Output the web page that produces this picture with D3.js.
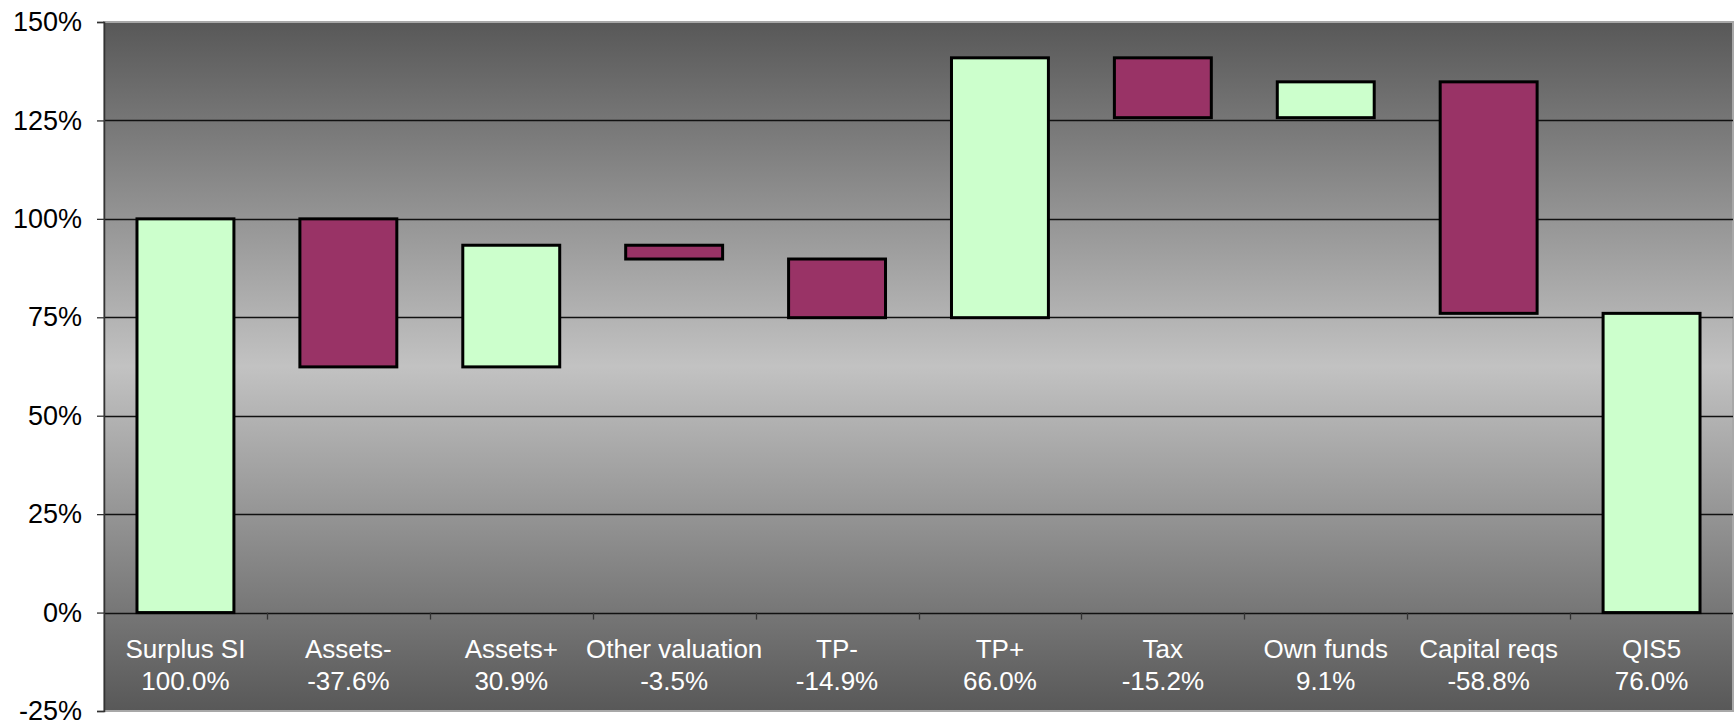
<!DOCTYPE html>
<html><head><meta charset="utf-8">
<script src="https://cdn.jsdelivr.net/npm/d3@7"></script>
<style>html,body{margin:0;padding:0;background:#fff;}svg{display:block;}</style>
</head><body>
<svg id="chart" width="1735" height="722"></svg>
<script>
const categories = ["Surplus SI","Assets-","Assets+","Other valuation","TP-","TP+","Tax","Own funds","Capital reqs","QIS5"];
const changes = [100.0,-37.6,30.9,-3.5,-14.9,66.0,-15.2,9.1,-58.8,76.0];
const isTotal = [true,false,false,false,false,false,false,false,false,true];
const yTicks = [-25,0,25,50,75,100,125,150];

const W = 1735, H = 722;
const m = {left:104, right:2, top:22, bottom:11};
const svg = d3.select("#chart");
const x = d3.scaleBand().domain(categories).range([m.left, W - m.right]).padding(0);
const y = d3.scaleLinear().domain([-25,150]).range([H - m.bottom, m.top]);

let run = 0;
const bars = categories.map((c,i)=>{
  let a,b;
  if (isTotal[i]) { a = 0; b = changes[i]; run = changes[i]; }
  else { a = run; b = run + changes[i]; run = b; }
  return {cat:c, v:changes[i], lo:Math.min(a,b), hi:Math.max(a,b), up: isTotal[i] || changes[i] >= 0};
});

const defs = svg.append("defs");
const g = defs.append("linearGradient").attr("id","bg").attr("x1",0).attr("y1",0).attr("x2",0).attr("y2",1);
g.append("stop").attr("offset","0%").attr("stop-color","#585858");
g.append("stop").attr("offset","50%").attr("stop-color","#c2c2c2");
g.append("stop").attr("offset","100%").attr("stop-color","#585858");

const pw = W - m.right - m.left, ph = H - m.bottom - m.top;
svg.append("rect").attr("x",m.left).attr("y",m.top).attr("width",pw).attr("height",ph)
  .attr("fill","url(#bg)").attr("stroke","#a8a8a8").attr("stroke-width",2);

svg.append("g").selectAll("line").data(yTicks.filter(t=>t>-25 && t<150)).join("line")
  .attr("x1",m.left).attr("x2",W-m.right).attr("y1",d=>Math.round(y(d))+0.5).attr("y2",d=>Math.round(y(d))+0.5)
  .attr("stroke","#111").attr("stroke-width",1.3);

svg.append("g").selectAll("line").data(categories.slice(1)).join("line")
  .attr("x1",d=>Math.round(x(d))+0.5).attr("x2",d=>Math.round(x(d))+0.5)
  .attr("y1",y(0)).attr("y2",y(0)+7).attr("stroke","#333").attr("stroke-width",1.3);

const ya = svg.append("g").attr("transform",`translate(${m.left},0)`)
  .call(d3.axisLeft(y).tickValues(yTicks).tickFormat(d=>d+"%").tickSize(7).tickPadding(15));
ya.select(".domain").attr("stroke","#333").attr("stroke-width",1.5);
ya.selectAll(".tick line").attr("stroke","#333").attr("stroke-width",1.3);
ya.selectAll("text").attr("font-family","Arial, 'Liberation Sans', sans-serif").attr("font-size",27).attr("fill","#000");

const bw = x.bandwidth()*0.595;
svg.append("g").selectAll("rect").data(bars).join("rect")
  .attr("x",d=>x(d.cat)+x.bandwidth()/2-bw/2)
  .attr("width",bw)
  .attr("y",d=>y(d.hi))
  .attr("height",d=>y(d.lo)-y(d.hi))
  .attr("fill",d=>d.up?"#ccffcc":"#993366")
  .attr("stroke","#000").attr("stroke-width",3);

const lab = svg.append("g").attr("font-family","Arial, 'Liberation Sans', sans-serif").attr("font-size",26).attr("fill","#fff").attr("text-anchor","middle");
bars.forEach(d=>{
  const cx = x(d.cat)+x.bandwidth()/2;
  lab.append("text").attr("x",cx).attr("y",658).text(d.cat);
  lab.append("text").attr("x",cx).attr("y",690).text(d.v.toFixed(1)+"%");
});
</script>
</body></html>
